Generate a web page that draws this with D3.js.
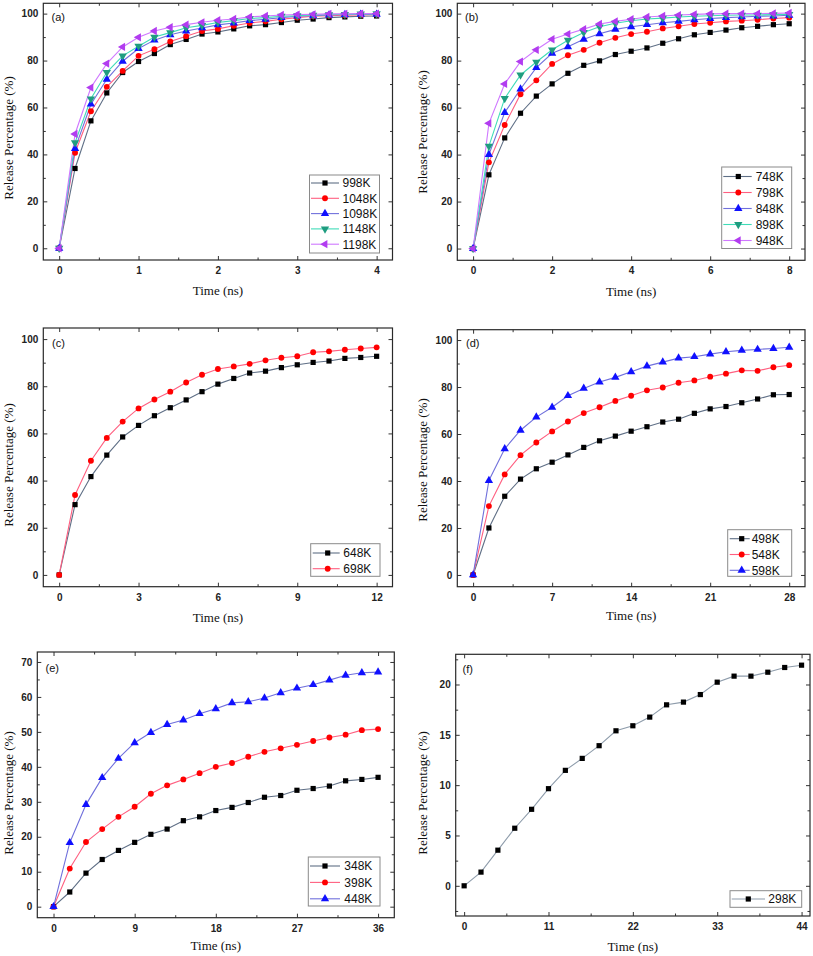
<!DOCTYPE html>
<html>
<head>
<meta charset="utf-8">
<script src="https://cdn.jsdelivr.net/npm/d3@7"></script>
<style>
  html, body { margin: 0; padding: 0; background: #ffffff; }
  svg { display: block; }
</style>
</head>
<body>
<svg id="chart" width="813" height="956"></svg>
<script>
// ---------------- DATA ----------------
// Panel (a)
const timeA = [0, 0.2, 0.4, 0.6, 0.8, 1.0, 1.2, 1.4, 1.6, 1.8, 2.0, 2.2, 2.4, 2.6, 2.8, 3.0, 3.2, 3.4, 3.6, 3.8, 4.0];
const a998K  = [0, 34.0, 54.3, 66.2, 74.9, 79.6, 83.0, 86.8, 89.0, 91.3, 92.2, 93.5, 94.8, 95.3, 96.2, 97.2, 97.7, 98.3, 98.6, 98.9, 99.0];
const a1048K = [0, 40.7, 58.4, 68.8, 75.6, 82.0, 84.8, 88.1, 90.4, 92.6, 93.5, 94.8, 96.0, 96.7, 97.6, 98.3, 98.9, 99.1, 99.3, 99.4, 99.6];
const a1098K = [0, 42.5, 61.4, 72.0, 79.7, 85.1, 88.7, 91.0, 92.6, 93.9, 95.2, 96.0, 97.0, 97.6, 98.3, 98.9, 99.1, 99.4, 99.6, 99.7, 99.7];
const a1148K = [0, 45.0, 63.7, 75.0, 82.0, 86.1, 90.0, 91.9, 94.0, 95.0, 96.2, 97.0, 97.9, 98.3, 98.9, 99.1, 99.4, 99.6, 99.7, 99.9, 100.0];
const a1198K = [0, 48.7, 68.5, 78.7, 85.8, 89.9, 92.6, 94.2, 95.3, 96.3, 97.2, 97.7, 98.6, 99.0, 99.4, 99.6, 99.7, 99.9, 99.9, 100.0, 100.0];

// Panel (b)
const timeB = [0, 0.4, 0.8, 1.2, 1.6, 2.0, 2.4, 2.8, 3.2, 3.6, 4.0, 4.4, 4.8, 5.2, 5.6, 6.0, 6.4, 6.8, 7.2, 7.6, 8.0];
const b748K = [0, 31.4, 47.1, 57.6, 64.9, 70.1, 74.6, 78.0, 79.9, 82.6, 84.0, 85.4, 87.4, 89.3, 91.0, 92.0, 93.0, 94.0, 94.6, 95.3, 95.7];
const b798K = [0, 36.7, 52.6, 65.7, 71.6, 78.6, 82.3, 84.6, 87.6, 89.7, 91.3, 92.3, 93.7, 94.6, 95.6, 96.1, 96.7, 97.0, 97.4, 97.9, 98.3];
const b848K = [0, 40.0, 57.9, 67.9, 77.0, 83.1, 85.9, 89.1, 91.4, 93.3, 94.4, 95.3, 96.1, 96.7, 97.4, 97.9, 98.3, 98.6, 98.9, 99.0, 99.3];
const b898K = [0, 43.6, 63.9, 73.9, 79.4, 84.6, 88.7, 92.0, 94.4, 95.9, 97.0, 97.7, 98.1, 98.6, 98.9, 99.1, 99.3, 99.4, 99.4, 99.6, 99.7];
const b948K = [0, 53.3, 70.1, 79.6, 84.6, 89.1, 91.3, 93.4, 95.6, 96.7, 97.6, 98.6, 99.0, 99.4, 99.7, 99.9, 100.0, 100.0, 100.0, 100.1, 100.3];

// Panel (c)
const timeC = [0, 0.6, 1.2, 1.8, 2.4, 3.0, 3.6, 4.2, 4.8, 5.4, 6.0, 6.6, 7.2, 7.8, 8.4, 9.0, 9.6, 10.2, 10.8, 11.4, 12.0];
const c648K = [0, 29.8, 41.7, 50.8, 58.5, 63.4, 67.5, 70.9, 74.2, 77.7, 80.9, 83.3, 85.6, 86.4, 87.9, 89.1, 90.1, 90.7, 91.8, 92.2, 92.7];
const c698K = [0, 33.9, 48.4, 58.1, 65.0, 70.6, 74.4, 77.7, 81.6, 84.9, 87.3, 88.4, 89.5, 91.0, 92.1, 92.7, 94.4, 94.8, 95.5, 96.0, 96.5];

// Panel (d)
const timeD = [0, 1.4, 2.8, 4.2, 5.6, 7.0, 8.4, 9.8, 11.2, 12.6, 14.0, 15.4, 16.8, 18.2, 19.6, 21.0, 22.4, 23.8, 25.2, 26.6, 28.0];
const d498K = [0, 20.0, 33.5, 40.8, 45.2, 48.0, 51.1, 54.3, 57.1, 59.1, 61.2, 63.1, 65.1, 66.3, 68.8, 70.7, 71.7, 73.3, 74.9, 76.7, 76.8];
const d548K = [0, 29.3, 42.8, 51.0, 56.4, 61.1, 65.3, 68.9, 71.4, 74.1, 76.3, 78.6, 79.8, 81.8, 82.8, 84.4, 85.7, 87.1, 86.9, 88.4, 89.3];
const d598K = [0, 40.2, 53.7, 61.6, 67.2, 71.4, 76.3, 79.4, 82.1, 84.1, 86.5, 88.9, 90.6, 92.3, 92.9, 94.0, 95.0, 95.6, 96.0, 96.4, 96.9];

// Panel (e)
const timeE = [0, 1.8, 3.6, 5.4, 7.2, 9.0, 10.8, 12.6, 14.4, 16.2, 18.0, 19.8, 21.6, 23.4, 25.2, 27.0, 28.8, 30.6, 32.4, 34.2, 36.0];
const e348K = [0, 4.2, 9.6, 13.5, 16.1, 18.4, 20.7, 22.2, 24.6, 25.7, 27.5, 28.4, 29.8, 31.3, 31.8, 33.3, 33.8, 34.5, 36.0, 36.4, 37.0];
const e398K = [0, 10.9, 18.5, 22.2, 25.7, 28.6, 32.3, 34.7, 36.4, 38.2, 40.0, 41.1, 42.9, 44.3, 45.3, 46.3, 47.4, 48.4, 49.2, 50.5, 50.8];
const e448K = [0, 18.3, 29.2, 36.9, 42.4, 46.9, 49.8, 52.1, 53.4, 55.2, 56.6, 58.3, 58.6, 59.7, 61.2, 62.5, 63.5, 64.8, 66.2, 66.9, 67.1];

// Panel (f)
const timeF = [0, 2.2, 4.4, 6.6, 8.8, 11.0, 13.2, 15.4, 17.6, 19.8, 22.0, 24.2, 26.4, 28.6, 30.8, 33.0, 35.2, 37.4, 39.6, 41.8, 44.0];
const f298K = [0, 1.36, 3.54, 5.72, 7.6, 9.65, 11.47, 12.66, 13.92, 15.4, 15.9, 16.76, 17.98, 18.25, 19.0, 20.23, 20.83, 20.83, 21.22, 21.69, 21.92];

// Tick values
const xTicksA = [0, 1, 2, 3, 4],     xMinorA = [0.5, 1.5, 2.5, 3.5];
const xTicksB = [0, 2, 4, 6, 8],     xMinorB = [1, 3, 5, 7];
const xTicksC = [0, 3, 6, 9, 12],    xMinorC = [1.5, 4.5, 7.5, 10.5];
const xTicksD = [0, 7, 14, 21, 28],  xMinorD = [3.5, 10.5, 17.5, 24.5];
const xTicksE = [0, 9, 18, 27, 36],  xMinorE = [4.5, 13.5, 22.5, 31.5];
const xTicksF = [0, 11, 22, 33, 44], xMinorF = [5.5, 16.5, 27.5, 38.5];
const yTicks100 = [0, 20, 40, 60, 80, 100], yMinor100 = [10, 30, 50, 70, 90];
const yTicksE = [0, 10, 20, 30, 40, 50, 60, 70], yMinorE = [5, 15, 25, 35, 45, 55, 65];
const yTicksF = [0, 5, 10, 15, 20], yMinorF = [-2.5, 2.5, 7.5, 12.5, 17.5, 22.5];

// ---------------- STYLES ----------------
const STY = {
  black:  { mark: "#000000", line: "#5f6f86", sym: "square" },
  red:    { mark: "#ff0000", line: "#ff5f80", sym: "circle" },
  blue:   { mark: "#1010ff", line: "#7070dc", sym: "up" },
  green:  { mark: "#1f9d80", line: "#3fdcb8", sym: "down" },
  purple: { mark: "#b23cf0", line: "#cf78ff", sym: "left" },
  grey:   { mark: "#000000", line: "#8e9cab", sym: "square" }
};

const panels = [
  { label: "(a)", L: 43.3, T: 3.3, R: 392.5, B: 260, xd: [-0.2, 4.2], yd: [-5, 104.4],
    xt: xTicksA, xm: xMinorA, yt: yTicks100, ym: yMinor100, time: timeA,
    series: [["998K", a998K, "black"], ["1048K", a1048K, "red"], ["1098K", a1098K, "blue"], ["1148K", a1148K, "green"], ["1198K", a1198K, "purple"]],
    lab: [51.5, 20.5], ytitle: [9, 138], xtitle: 295,
    leg: { x: 309.5, y: 175, w: 70, h: 78, r0: 183, dy: 15.3, l0: 1.5, l1: 29.5, mk: 15.5, tx: 33 } },
  { label: "(b)", L: 457.3, T: 3.3, R: 805, B: 260.3, xd: [-0.4, 8.4], yd: [-5, 104.4],
    xt: xTicksB, xm: xMinorB, yt: yTicks100, ym: yMinor100, time: timeB,
    series: [["748K", b748K, "black"], ["798K", b798K, "red"], ["848K", b848K, "blue"], ["898K", b898K, "green"], ["948K", b948K, "purple"]],
    lab: [465, 20.5], ytitle: [423, 132], xtitle: 296,
    leg: { x: 721.7, y: 167, w: 70, h: 81.5, r0: 176.5, dy: 16, l0: 1.6, l1: 30, mk: 16.6, tx: 34 } },
  { label: "(c)", L: 43.3, T: 328, R: 392.5, B: 586.7, xd: [-0.6, 12.6], yd: [-5, 104.7],
    xt: xTicksC, xm: xMinorC, yt: yTicks100, ym: yMinor100, time: timeC,
    series: [["648K", c648K, "black"], ["698K", c698K, "red"]],
    lab: [52, 347], ytitle: [9, 465], xtitle: 622,
    leg: { x: 310.7, y: 543.7, w: 69.3, h: 32.6, r0: 553, dy: 15.7, l0: 2, l1: 29, mk: 17, tx: 32.6 } },
  { label: "(d)", L: 457.3, T: 329.7, R: 805, B: 586.7, xd: [-1.4, 29.4], yd: [-5, 104.4],
    xt: xTicksD, xm: xMinorD, yt: yTicks100, ym: yMinor100, time: timeD,
    series: [["498K", d498K, "black"], ["548K", d548K, "red"], ["598K", d598K, "blue"]],
    lab: [466, 347], ytitle: [423, 460], xtitle: 620,
    leg: { x: 727.7, y: 529.7, w: 64, h: 46.6, r0: 538.7, dy: 15.8, l0: 2, l1: 22, mk: 14, tx: 24 } },
  { label: "(e)", L: 37.3, T: 652, R: 394.3, B: 917.7, xd: [-1.8, 37.8], yd: [-3.15, 72.85],
    xt: xTicksE, xm: xMinorE, yt: yTicksE, ym: yMinorE, time: timeE,
    series: [["348K", e348K, "black"], ["398K", e398K, "red"], ["448K", e448K, "blue"]],
    lab: [45.5, 672], ytitle: [9, 793], xtitle: 950,
    leg: { x: 308.3, y: 857, w: 71.7, h: 49, r0: 866, dy: 16.4, l0: 1.7, l1: 31.7, mk: 16.7, tx: 36 } },
  { label: "(f)", L: 455.7, T: 654.3, R: 810, B: 916, xd: [-1.1, 45.1], yd: [-3, 23],
    xt: xTicksF, xm: xMinorF, yt: yTicksF, ym: yMinorF, time: timeF,
    series: [["298K", f298K, "grey"]],
    lab: [462.5, 673], ytitle: [423, 793], xtitle: 951,
    leg: { x: 730, y: 890.7, w: 71.7, h: 16.6, r0: 899, dy: 16, l0: 1.7, l1: 35, mk: 18.3, tx: 38.3 } }
];

// ---------------- DRAW ----------------
const svg = d3.select("#chart");
const SANS = "'Liberation Sans', Arial, sans-serif";
const SERIF = "'Liberation Serif', 'Times New Roman', serif";

function symPath(kind) {
  if (kind === "square") return d3.symbol(d3.symbolSquare, 27)();
  if (kind === "circle") return d3.symbol(d3.symbolCircle, 27)();
  return d3.symbol(d3.symbolTriangle, 30)();
}
function symRot(kind) {
  if (kind === "down") return 180;
  if (kind === "left") return -90;
  return 0;
}

function drawPanel(p) {
  const g = svg.append("g");
  const x = d3.scaleLinear().domain(p.xd).range([p.L, p.R]);
  const y = d3.scaleLinear().domain(p.yd).range([p.B, p.T]);

  const styleAxis = sel => {
    sel.select(".domain").remove();
    sel.selectAll(".tick line").attr("stroke", "#333").attr("stroke-width", 1);
    sel.selectAll(".tick text").attr("font-family", SANS).attr("font-size", 10)
      .attr("font-weight", "bold").attr("fill", "#222");
  };

  // major/minor ticks, inward on all four sides
  g.append("g").attr("transform", `translate(0,${p.B})`)
    .call(d3.axisBottom(x).tickValues(p.xt).tickSize(-4).tickPadding(7).tickFormat(d3.format("d"))).call(styleAxis);
  g.append("g").attr("transform", `translate(0,${p.B})`)
    .call(d3.axisBottom(x).tickValues(p.xm).tickSize(-2.5).tickFormat("")).call(styleAxis);
  g.append("g").attr("transform", `translate(0,${p.T})`)
    .call(d3.axisTop(x).tickValues(p.xt).tickSize(-4).tickFormat("")).call(styleAxis);
  g.append("g").attr("transform", `translate(0,${p.T})`)
    .call(d3.axisTop(x).tickValues(p.xm).tickSize(-2.5).tickFormat("")).call(styleAxis);

  g.append("g").attr("transform", `translate(${p.L},0)`)
    .call(d3.axisLeft(y).tickValues(p.yt).tickSize(-4).tickPadding(5).tickFormat(d3.format("d"))).call(styleAxis);
  g.append("g").attr("transform", `translate(${p.L},0)`)
    .call(d3.axisLeft(y).tickValues(p.ym).tickSize(-2.5).tickFormat("")).call(styleAxis);
  g.append("g").attr("transform", `translate(${p.R},0)`)
    .call(d3.axisRight(y).tickValues(p.yt).tickSize(-4).tickFormat("")).call(styleAxis);
  g.append("g").attr("transform", `translate(${p.R},0)`)
    .call(d3.axisRight(y).tickValues(p.ym).tickSize(-2.5).tickFormat("")).call(styleAxis);

  // frame
  g.append("rect").attr("x", p.L).attr("y", p.T).attr("width", p.R - p.L).attr("height", p.B - p.T)
    .attr("fill", "none").attr("stroke", "#2a2a2a").attr("stroke-width", 1.2);

  // series
  const line = d3.line().x(d => x(d[0])).y(d => y(d[1]));
  p.series.forEach(([name, vals, key]) => {
    const st = STY[key];
    const pts = p.time.map((t, i) => [t, vals[i]]);
    g.append("path").datum(pts).attr("d", line)
      .attr("fill", "none").attr("stroke", st.line).attr("stroke-width", 1.1);
  });
  p.series.forEach(([name, vals, key]) => {
    const st = STY[key];
    const pts = p.time.map((t, i) => [t, vals[i]]);
    g.append("g").selectAll("path").data(pts).join("path")
      .attr("d", symPath(st.sym))
      .attr("transform", d => `translate(${x(d[0])},${y(d[1])}) rotate(${symRot(st.sym)})`)
      .attr("fill", st.mark);
  });

  // panel label
  g.append("text").attr("x", p.lab[0]).attr("y", p.lab[1]).text(p.label)
    .attr("font-family", SANS).attr("font-size", 11).attr("fill", "#111");

  // axis titles
  g.append("text").attr("x", (p.L + p.R) / 2).attr("y", p.xtitle).attr("text-anchor", "middle")
    .attr("font-family", SERIF).attr("font-size", 13).attr("fill", "#111").text("Time (ns)");
  g.append("text").attr("transform", `translate(${p.ytitle[0] + 4},${p.ytitle[1]}) rotate(-90)`)
    .attr("text-anchor", "middle")
    .attr("font-family", SERIF).attr("font-size", 13).attr("fill", "#111").text("Release Percentage (%)");

  // legend
  const lg = p.leg;
  const leg = g.append("g");
  leg.append("rect").attr("x", lg.x).attr("y", lg.y).attr("width", lg.w).attr("height", lg.h)
    .attr("fill", "#fff").attr("stroke", "#8a8a8a").attr("stroke-width", 1);
  p.series.forEach(([name, vals, key], i) => {
    const st = STY[key];
    const cy = lg.r0 + i * lg.dy;
    leg.append("line").attr("x1", lg.x + lg.l0).attr("x2", lg.x + lg.l1).attr("y1", cy).attr("y2", cy)
      .attr("stroke", st.line).attr("stroke-width", 1.1);
    leg.append("path").attr("d", symPath(st.sym))
      .attr("transform", `translate(${lg.x + lg.mk},${cy}) rotate(${symRot(st.sym)})`)
      .attr("fill", st.mark);
    leg.append("text").attr("x", lg.x + lg.tx).attr("y", cy).attr("dy", "0.36em")
      .attr("font-family", SANS).attr("font-size", 12).attr("fill", "#111").text(name);
  });
}

panels.forEach(drawPanel);
</script>
</body>
</html>
